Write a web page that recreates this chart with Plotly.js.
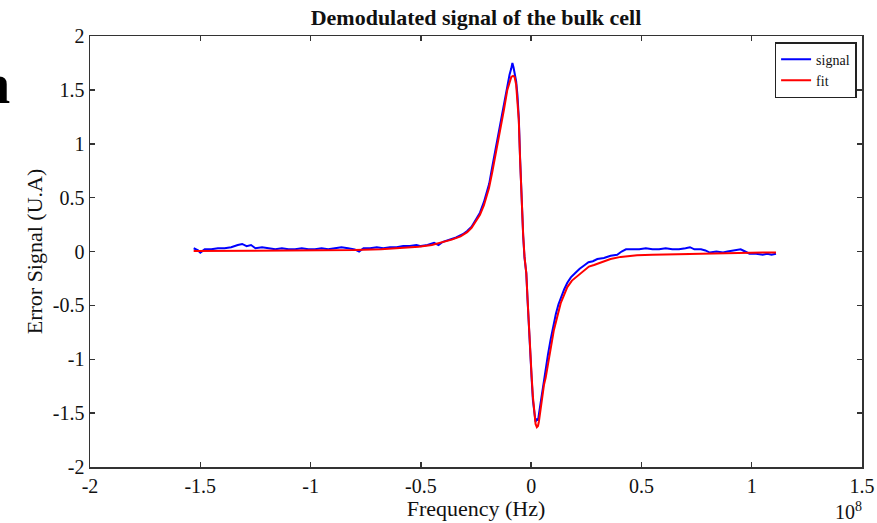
<!DOCTYPE html>
<html>
<head>
<meta charset="utf-8">
<script src="https://cdn.plot.ly/plotly-3.0.1.min.js"></script>
<style>html,body{margin:0;padding:0;background:#fff;}#chart{width:877px;height:523px;}</style>
</head>
<body>
<div id="chart"></div>
<script>
// Frequency in units of 1e8 Hz
var signalX = [-1.53,-1.51,-1.50,-1.48,-1.45,-1.42,-1.39,-1.36,-1.33,-1.31,-1.29,-1.27,-1.25,-1.22,-1.19,-1.16,-1.13,-1.10,-1.07,-1.04,-1.01,-0.98,-0.95,-0.92,-0.89,-0.86,-0.83,-0.80,-0.78,-0.76,-0.73,-0.70,-0.67,-0.64,-0.61,-0.58,-0.55,-0.52,-0.50,-0.47,-0.44,-0.42,-0.40,-0.37,-0.34,-0.31,-0.29,-0.27,-0.252,-0.232,-0.214,-0.2,-0.19,-0.176,-0.161,-0.146,-0.131,-0.12,-0.108,-0.098,-0.09,-0.085,-0.08,-0.075,-0.068,-0.062,-0.056,-0.05,-0.043,-0.036,-0.03,-0.022,-0.016,-0.01,-0.004,0.002,0.008,0.014,0.02,0.026,0.031,0.036,0.043,0.051,0.058,0.066,0.076,0.088,0.1,0.112,0.124,0.136,0.15,0.164,0.18,0.2,0.22,0.24,0.26,0.28,0.3,0.33,0.36,0.39,0.41,0.43,0.46,0.49,0.52,0.55,0.58,0.61,0.64,0.67,0.70,0.72,0.74,0.77,0.79,0.81,0.84,0.87,0.89,0.92,0.95,0.97,0.99,1.02,1.05,1.07,1.09,1.11];
var signalY = [0.03,0.01,-0.01,0.02,0.02,0.03,0.03,0.04,0.06,0.07,0.05,0.06,0.03,0.04,0.03,0.02,0.03,0.02,0.02,0.03,0.02,0.02,0.03,0.02,0.03,0.04,0.03,0.02,0.00,0.03,0.03,0.04,0.03,0.04,0.04,0.05,0.05,0.06,0.05,0.06,0.08,0.06,0.09,0.11,0.13,0.16,0.19,0.23,0.29,0.36,0.46,0.55,0.63,0.79,0.96,1.12,1.27,1.40,1.55,1.64,1.70,1.75,1.71,1.66,1.58,1.45,1.24,0.86,0.46,0.14,-0.06,-0.2,-0.46,-0.73,-0.97,-1.17,-1.38,-1.50,-1.58,-1.55,-1.57,-1.50,-1.40,-1.27,-1.17,-1.09,-0.96,-0.82,-0.68,-0.58,-0.49,-0.42,-0.35,-0.29,-0.24,-0.2,-0.16,-0.13,-0.10,-0.09,-0.07,-0.06,-0.04,-0.03,0.00,0.02,0.02,0.02,0.03,0.02,0.02,0.03,0.02,0.02,0.03,0.04,0.02,0.02,0.01,-0.01,0.00,-0.01,0.00,0.01,0.02,0.00,-0.02,-0.02,-0.03,-0.02,-0.03,-0.02];

var fitX = [-1.53,-1.3,-1.0,-0.8,-0.68,-0.6,-0.51,-0.45,-0.4,-0.36,-0.32,-0.29,-0.27,-0.252,-0.232,-0.214,-0.2,-0.191,-0.176,-0.161,-0.146,-0.131,-0.123,-0.108,-0.098,-0.09,-0.082,-0.075,-0.068,-0.062,-0.056,-0.05,-0.043,-0.036,-0.03,-0.022,-0.016,-0.01,-0.004,0.002,0.008,0.014,0.02,0.026,0.031,0.035,0.043,0.051,0.058,0.066,0.076,0.088,0.103,0.119,0.134,0.15,0.164,0.185,0.209,0.235,0.262,0.285,0.32,0.36,0.406,0.48,0.55,0.65,0.75,0.85,0.95,1.05,1.11];
var fitY = [0.005,0.006,0.008,0.013,0.02,0.03,0.045,0.06,0.085,0.11,0.14,0.18,0.22,0.277,0.34,0.43,0.52,0.59,0.74,0.9,1.05,1.2,1.32,1.5,1.58,1.62,1.63,1.62,1.55,1.42,1.22,0.85,0.45,0.15,-0.05,-0.2,-0.45,-0.72,-0.95,-1.15,-1.35,-1.52,-1.6,-1.63,-1.62,-1.58,-1.45,-1.33,-1.24,-1.17,-1.05,-0.91,-0.73,-0.6,-0.48,-0.4,-0.33,-0.27,-0.23,-0.18,-0.14,-0.125,-0.1,-0.07,-0.05,-0.035,-0.03,-0.025,-0.02,-0.015,-0.012,-0.01,-0.01];

var xTicks = [-2,-1.5,-1,-0.5,0,0.5,1,1.5];
var xTickLabels = ['-2','-1.5','-1','-0.5','0','0.5','1','1.5'];
var yTicks = [-2,-1.5,-1,-0.5,0,0.5,1,1.5,2];
var yTickLabels = ['-2','-1.5','-1','-0.5','0','0.5','1','1.5','2'];

var serif = 'Liberation Serif, Times New Roman, serif';
var axisCommon = {
  showgrid: false, zeroline: false, showline: true, linecolor: '#333', linewidth: 1.5,
  mirror: 'ticks', ticks: 'inside', ticklen: 5, tickwidth: 1.5, tickcolor: '#333',
  tickfont: {family: serif, size: 20, color: '#111'}, tickmode: 'array'
};

var data = [
  {x: signalX, y: signalY, type: 'scatter', mode: 'lines', name: 'signal', line: {color: '#0000ff', width: 2}},
  {x: fitX, y: fitY, type: 'scatter', mode: 'lines', name: 'fit', line: {color: '#ff0000', width: 2}}
];

var layout = {
  width: 877, height: 523,
  margin: {l: 90, r: 15, t: 36, b: 56},
  paper_bgcolor: '#fff', plot_bgcolor: '#fff',
  font: {family: serif, color: '#111'},
  title: {text: '<b>Demodulated signal of the bulk cell</b>', font: {family: serif, size: 22, color: '#111'},
          x: 0.5, xref: 'paper', y: 1 - 17/523, yanchor: 'middle'},
  xaxis: Object.assign({}, axisCommon, {range: [-2, 1.5], tickvals: xTicks, ticktext: xTickLabels,
          title: {text: 'Frequency (Hz)', font: {family: serif, size: 22, color: '#111'}, standoff: 2}}),
  yaxis: Object.assign({}, axisCommon, {range: [-2, 2], tickvals: yTicks, ticktext: yTickLabels,
          title: {text: 'Error Signal (U.A)', font: {family: serif, size: 22, color: '#111'}, standoff: 4}}),
  showlegend: true,
  legend: {x: 0.993, xanchor: 'right', y: 0.986, yanchor: 'top', bgcolor: '#fff', bordercolor: '#222', borderwidth: 1.5,
           font: {family: serif, size: 14, color: '#111'}, itemwidth: 30, tracegroupgap: 0},
  annotations: [
    {text: '10<sup>8</sup>', xref: 'paper', yref: 'paper', x: (848-90)/772, y: (467-511)/431, xanchor: 'center', yanchor: 'middle',
     showarrow: false, font: {family: serif, size: 20, color: '#111'}},
    {text: '<b>n</b>', xref: 'paper', yref: 'paper', x: (12-90)/772, y: (467-83)/431, xanchor: 'right', yanchor: 'middle',
     showarrow: false, font: {family: serif, size: 58, color: '#000'}}
  ]
};

Plotly.newPlot('chart', data, layout, {displayModeBar: false, staticPlot: true});
</script>
</body>
</html>
